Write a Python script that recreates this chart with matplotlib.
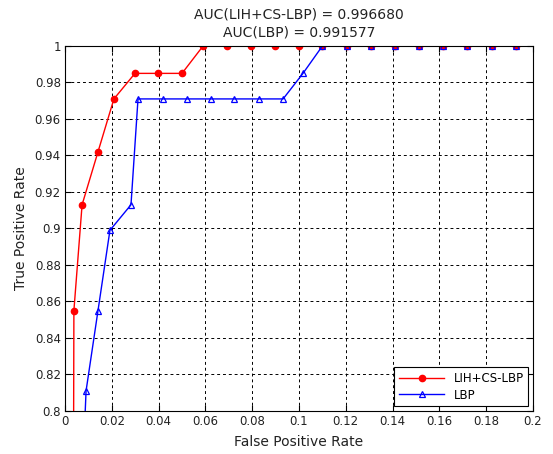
import numpy as np
import matplotlib.pyplot as plt

# ROC-Daten
fpr_lih = [0.0035, 0.0038, 0.0073, 0.0141, 0.0209, 0.0299, 0.0397, 0.0500, 0.0590,
           0.0692, 0.0795, 0.0897, 0.1000, 0.1100, 0.1205, 0.1308, 0.1410,
           0.1513, 0.1615, 0.1718, 0.1825, 0.1927]
tpr_lih = [0.70, 0.855, 0.913, 0.942, 0.971, 0.985, 0.985, 0.985, 1.0,
           1.0, 1.0, 1.0, 1.0, 1.0, 1.0, 1.0, 1.0,
           1.0, 1.0, 1.0, 1.0, 1.0]

fpr_lbp = [0.0080, 0.0090, 0.0141, 0.0192, 0.0282, 0.0312, 0.0419, 0.0521, 0.0624,
           0.0722, 0.0829, 0.0932, 0.1017, 0.1100, 0.1205, 0.1308, 0.1410,
           0.1513, 0.1615, 0.1718, 0.1825, 0.1927]
tpr_lbp = [0.78, 0.811, 0.855, 0.899, 0.913, 0.971, 0.971, 0.971, 0.971,
           0.971, 0.971, 0.971, 0.985, 1.0, 1.0, 1.0, 1.0,
           1.0, 1.0, 1.0, 1.0, 1.0]

auc_lih = 0.996680
auc_lbp = 0.991577

xticks = np.arange(0, 0.2001, 0.02)
yticks = np.arange(0.8, 1.0001, 0.02)

plt.rcParams['font.family'] = ['DejaVu Sans']

fig = plt.figure(figsize=(5.53, 4.54), dpi=100)
ax = fig.add_axes([65 / 553, 1 - 411 / 454, 468 / 553, 365 / 454])

ax.plot(fpr_lih, tpr_lih, color='red', linewidth=1.0, marker='o', markersize=4.5,
        label='LIH+CS-LBP')
ax.plot(fpr_lbp, tpr_lbp, color='blue', linewidth=1.0, marker='^', markersize=5,
        markerfacecolor='none', markeredgewidth=0.9, label='LBP')

ax.set_xlim(0, 0.2)
ax.set_ylim(0.8, 1.0)
ax.set_xticks(xticks)
ax.set_yticks(yticks)
ax.set_xticklabels(['0', '0.02', '0.04', '0.06', '0.08', '0.1', '0.12', '0.14',
                    '0.16', '0.18', '0.2'])
ax.set_yticklabels(['0.8', '0.82', '0.84', '0.86', '0.88', '0.9', '0.92', '0.94',
                    '0.96', '0.98', '1'])
ax.tick_params(direction='in', labelsize=8.5, length=4, top=True, right=True,
               labelcolor='#222222', pad=3)
ax.grid(True, color='black', linestyle=(0, (3, 3)), linewidth=0.7)

ax.set_xlabel('False Positive Rate', fontsize=10, color='#222222', labelpad=5)
ax.set_ylabel('True Positive Rate', fontsize=10, color='#222222', labelpad=5)
ax.set_title('AUC(LIH+CS-LBP) = %.6f\nAUC(LBP) = %.6f' % (auc_lih, auc_lbp),
             fontsize=10, linespacing=1.3, pad=7, color='#222222')

leg = ax.legend(loc='lower right', fontsize=8.5, fancybox=False, framealpha=1,
                edgecolor='black', borderaxespad=0.4, handlelength=3.8,
                labelspacing=0.3, borderpad=0.4)
leg.get_frame().set_linewidth(0.8)

fig.savefig('out.png', dpi=100)
